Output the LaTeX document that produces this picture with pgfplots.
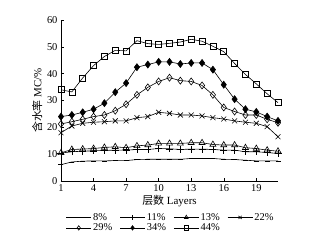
\documentclass[border=0pt]{standalone}
\usepackage{pgfplots}
\pgfplotsset{compat=1.18}
\usepackage{fontspec}
\setmainfont{Liberation Serif}
\newfontfamily\cjk{Noto Sans CJK SC}
\pgfplotstableread{
L  a    b     c     d     e     f     g
1  6.1  10.4  10.5  18.0  21.25 24.0  34.0
2  7.1  10.9  11.75 20.5  22.1  24.6  33.2
3  7.4  11.1  11.9  21.5  23.0  25.6  38.4
4  7.5  11.25 12.1  21.9  24.0  26.75 43.0
5  7.5  11.4  12.5  22.1  24.6  29.0  46.4
6  7.6  11.5  12.75 22.4  26.2  33.1  48.7
7  7.6  11.5  12.4  22.4  28.6  36.5  48.5
8  8.0  11.75 13.1  23.6  32.1  42.4  52.3
9  8.1  11.75 13.4  24.0  34.9  43.4  51.2
10 8.1  12.1  14.0  25.6  37.1  44.4  50.9
11 8.1  12.0  14.0  25.2  38.5  44.4  51.3
12 8.1  11.75 14.0  24.6  37.4  43.6  51.8
13 8.4  11.9  14.25 24.6  37.1  44.0  52.8
14 8.4  11.9  14.25 24.25 35.6  44.0  52.1
15 8.4  11.75 13.6  23.6  32.1  41.5  50.2
16 8.1  11.5  13.4  23.1  27.4  35.9  48.2
17 8.0  11.5  13.4  22.4  25.9  30.5  43.8
18 7.75 10.9  12.4  21.9  24.6  26.75 39.7
19 7.5  10.9  12.1  21.5  24.6  25.75 36.2
20 7.5  10.6  11.5  20.25 23.0  24.0  32.5
21 7.5  10.25 11.1  16.5  21.7  22.4  29.2
}\data
\begin{document}
\begin{tikzpicture}
\path[use as bounding box] (-61bp,-62bp) rectangle (260bp,181bp);
\begin{axis}[
  at={(0,0)}, anchor=south west,
  scale only axis, width=217bp, height=161bp,
  xmin=1, xmax=21, ymin=0, ymax=60,
  xtick={1,4,7,10,13,16,19}, ytick={0,10,...,60},
  axis lines*=left, axis line style={line width=0.6pt},
  tick style={black, line width=0.5pt}, tick align=inside,
  major tick length=3bp,
  /pgf/number format/assume math mode=true,
  tick label style={font=\fontsize{10.5}{12}\selectfont},
  xlabel={{\cjk 层数} Layers},
  ylabel={{\cjk 含水率} MC/\%},
  label style={font=\fontsize{11}{13}\selectfont},
  xlabel style={yshift=3bp},
  ylabel style={yshift=-2bp},
  every axis plot/.append style={black, line width=0.6pt, mark options={solid, line width=0.6pt}},
  legend columns=4,
  legend style={at={([xshift=1bp]0.5,-0.2)}, anchor=north, draw=none, fill=none,
    font=\fontsize{10.5}{12}\selectfont, row sep=2.5bp, inner sep=0pt,
    nodes={inner xsep=1.5bp, inner ysep=0pt, text height=7bp, text depth=1bp},
    /tikz/every even column/.append style={column sep=6bp}},
  legend cell align=left,
  legend image code/.code={\draw[#1, mark size=2.2bp] (0bp,0bp) -- (12.5bp,0bp) plot coordinates {(12.5bp,0bp)} -- (25bp,0bp);},
]
\addplot[mark=-, mark size=2.5bp] table[x=L,y=a] {\data};
\addlegendentry{8\%}
\addplot[mark=+, mark size=3.5bp] table[x=L,y=b] {\data};
\addlegendentry{11\%}
\addplot[mark=triangle, mark size=3.5bp] table[x=L,y=c] {\data};
\addlegendentry{13\%}
\addplot[mark=x, mark size=3.5bp] table[x=L,y=d] {\data};
\addlegendentry{22\%}
\addplot[mark=diamond, mark size=3.5bp] table[x=L,y=e] {\data};
\addlegendentry{29\%}
\addplot[mark=diamond*, mark size=3.5bp] table[x=L,y=f] {\data};
\addlegendentry{34\%}
\addplot[mark=square, mark size=3bp] table[x=L,y=g] {\data};
\addlegendentry{44\%}
\end{axis}
\end{tikzpicture}
\end{document}
